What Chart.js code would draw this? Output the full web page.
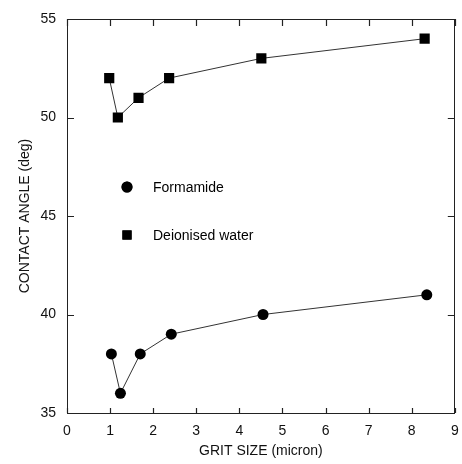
<!DOCTYPE html>
<html>
<head>
<meta charset="utf-8">
<script src="https://cdn.jsdelivr.net/npm/chart.js@4.4.1/dist/chart.umd.min.js"></script>
<style>
  html, body { margin: 0; padding: 0; background: #fff; }
  #wrap { width: 462px; height: 464px; }
</style>
</head>
<body>
<div id="wrap"><canvas id="chart"></canvas></div>
<script>
// data
const waterX = [0.98, 1.18, 1.66, 2.37, 4.51, 8.3];
const waterY = [52, 50, 51, 52, 53, 54];
const formX = [1.03, 1.24, 1.70, 2.42, 4.55, 8.35];
const formY = [38, 36, 38, 39, 40, 41];
const xTicks = [0, 1, 2, 3, 4, 5, 6, 7, 8, 9];
const yTicks = [35, 40, 45, 50, 55];

const FONT = "'Liberation Sans', Arial, sans-serif";

function toPoints(xs, ys) {
  return xs.map((x, i) => ({ x: x, y: ys[i] }));
}

// inward ticks on all four sides + the in-plot legend
const frameTicks = {
  id: "frameTicks",
  afterDraw(chart) {
    const ctx = chart.ctx;
    const a = chart.chartArea;
    const xs = chart.scales.x, ys = chart.scales.y;
    const len = 7;
    ctx.save();
    ctx.strokeStyle = "#222";
    ctx.lineWidth = 1.2;
    ctx.beginPath();
    xTicks.forEach(v => {
      const px = Math.round(xs.getPixelForValue(v)) + 0.5;
      ctx.moveTo(px, a.bottom);
      ctx.lineTo(px, a.bottom - 5);
      ctx.moveTo(px, a.top);
      ctx.lineTo(px, a.top + len);
    });
    yTicks.forEach(v => {
      const py = Math.round(ys.getPixelForValue(v)) + 0.5;
      ctx.moveTo(a.left, py);
      ctx.lineTo(a.left + len, py);
      ctx.moveTo(a.right, py);
      ctx.lineTo(a.right - len, py);
    });
    ctx.stroke();

    // legend inside the plot
    ctx.fillStyle = "#000";
    ctx.font = "14px " + FONT;
    ctx.textBaseline = "middle";
    const lx = a.left + 60;
    const items = [
      { style: "circle", r: 5.5, text: "Formamide", y: a.top + 168 },
      { style: "rect", r: 6.5, text: "Deionised water", y: a.top + 216 }
    ];
    items.forEach(it => {
      Chart.helpers.drawPoint(ctx, { pointStyle: it.style, radius: it.r, borderWidth: 0 }, lx, it.y);
      ctx.fill();
      ctx.fillText(it.text, lx + 26, it.y + 1);
    });
    ctx.restore();
  }
};

new Chart(document.getElementById("chart"), {
  type: "scatter",
  data: {
    datasets: [
      {
        label: "Formamide",
        data: toPoints(formX, formY),
        showLine: true,
        borderColor: "#333",
        borderWidth: 1,
        pointStyle: "circle",
        pointRadius: 5.5,
        pointBackgroundColor: "#000",
        pointBorderWidth: 0
      },
      {
        label: "Deionised water",
        data: toPoints(waterX, waterY),
        showLine: true,
        borderColor: "#333",
        borderWidth: 1,
        pointStyle: "rect",
        pointRadius: 7.2,
        pointBackgroundColor: "#000",
        pointBorderWidth: 0
      }
    ]
  },
  options: {
    responsive: true,
    maintainAspectRatio: false,
    animation: false,
    layout: { padding: 0 },
    plugins: { legend: { display: false }, tooltip: { enabled: false } },
    scales: {
      x: {
        type: "linear",
        min: 0, max: 9,
        afterBuildTicks: s => { s.ticks = xTicks.map(v => ({ value: v })); },
        afterFit: s => { s.height = 51; },
        grid: { display: false },
        border: { display: true, color: "#222", width: 1 },
        ticks: { color: "#111", font: { family: FONT, size: 14 }, padding: 2, maxRotation: 0 },
        title: { display: true, text: "GRIT SIZE (micron)", color: "#111", font: { family: FONT, size: 14 }, padding: { top: 10 } }
      },
      x2: {
        type: "linear", position: "top", min: 0, max: 9,
        afterFit: s => { s.height = 19; },
        grid: { display: false },
        border: { display: true, color: "#222", width: 1 },
        ticks: { display: false }
      },
      y: {
        type: "linear",
        min: 35, max: 55,
        afterBuildTicks: s => { s.ticks = yTicks.map(v => ({ value: v })); },
        afterFit: s => { s.width = 67; },
        grid: { display: false },
        border: { display: true, color: "#222", width: 1 },
        ticks: { color: "#111", font: { family: FONT, size: 14 }, padding: 3 },
        title: { display: true, text: "CONTACT ANGLE (deg)", color: "#111", font: { family: FONT, size: 14 }, padding: { top: 17, bottom: 0 } }
      },
      y2: {
        type: "linear", position: "right", min: 35, max: 55,
        afterFit: s => { s.width = 4; },
        grid: { display: false },
        border: { display: true, color: "#222", width: 1 },
        ticks: { display: false }
      }
    }
  },
  plugins: [frameTicks]
});
</script>
</body>
</html>
